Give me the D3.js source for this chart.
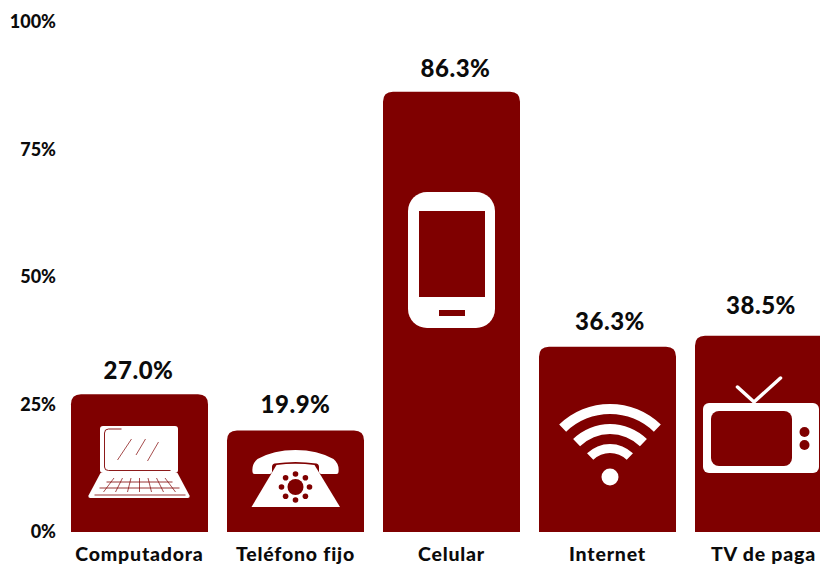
<!DOCTYPE html>
<html>
<head>
<meta charset="utf-8">
<script src="https://cdn.jsdelivr.net/npm/d3@7"></script>
<style>
  html, body { margin: 0; background: #fff; }
  svg { display: block; }
  text { font-family: Lato, sans-serif; font-weight: 900; fill: #0b0b0b; }
  .domain { display: none; }
</style>
</head>
<body>
<script>
const categories = ["Computadora", "Teléfono fijo", "Celular", "Internet", "TV de paga"];
const values = [27.0, 19.9, 86.3, 36.3, 38.5];
const yTicks = [0, 25, 50, 75, 100];
const dialDots = [0, 45, 90, 135, 180, 225, 270, 315];
const keyLines = [-3, -2, -1, 0, 1, 2, 3];

const width = 820, height = 565;
const dark = "#7f0000";

const x = d3.scaleBand()
    .domain(categories)
    .range([71, 832])
    .paddingInner(19 / 156);

const y = d3.scaleLinear()
    .domain([0, 100])
    .range([532, 22]);

const svg = d3.select("body").append("svg")
    .attr("width", width)
    .attr("height", height);

// y axis
const yAxis = svg.append("g")
    .attr("transform", "translate(56,0)")
    .call(d3.axisLeft(y).tickValues(yTicks).tickSize(0).tickPadding(0).tickFormat(d => d + "%"));
yAxis.selectAll("text").style("font-size", "18px");

// x axis
const xAxis = svg.append("g")
    .attr("transform", "translate(0,532)")
    .call(d3.axisBottom(x).tickSize(0).tickPadding(15));
xAxis.selectAll("text")
    .style("font-size", "19.5px")
    .style("letter-spacing", "0.8px");

// bars, only the top corners are rounded
function barPath(d, i) {
  const r = 10, x0 = x(categories[i]), x1 = x0 + x.bandwidth(), top = y(d), base = y(0);
  return `M${x0},${base}V${top + r}Q${x0},${top} ${x0 + r},${top}H${x1 - r}Q${x1},${top} ${x1},${top + r}V${base}Z`;
}

svg.selectAll(".bar")
    .data(values)
  .enter().append("path")
    .attr("class", "bar")
    .attr("fill", dark)
    .attr("d", barPath);

// value labels sit by hand in the original, not quite centred
const nudgeX = [-1, 0, 4, 2.5, -2.5];
const nudgeY = [-1, -3, 0, -2, -7];
svg.selectAll(".value")
    .data(values)
  .enter().append("text")
    .attr("class", "value")
    .attr("x", (d, i) => x(categories[i]) + x.bandwidth() / 2 + nudgeX[i])
    .attr("y", (d, i) => y(d) - 23 + nudgeY[i])
    .attr("dy", "0.35em")
    .attr("text-anchor", "middle")
    .style("font-size", "24px")
    .style("letter-spacing", "0.5px")
    .text(d => d.toFixed(1) + "%");

// icons: local origin is the bottom centre of each bar
function icon(i) {
  return svg.append("g")
      .attr("transform", `translate(${x(categories[i]) + x.bandwidth() / 2},${y(0)})`);
}

// laptop
const laptop = icon(0);
laptop.append("rect")
    .attr("x", -39.5).attr("y", -106).attr("width", 78).attr("height", 47).attr("rx", 3)
    .attr("fill", "#fff");
laptop.append("path")
    .attr("d", "M-39,-59H38L50,-36.5Q50.5,-34 48,-34H-49Q-51.5,-34 -51,-36.5Z")
    .attr("fill", "#fff");
laptop.append("path")
    .attr("d", "M-18,-103H-31Q-35,-103 -35,-99V-65Q-35,-61.5 -31,-61.5H31")
    .attr("fill", "none").attr("stroke", dark).attr("stroke-width", 0.9);
laptop.append("path")
    .attr("d", "M-8,-93L-22,-72M6,-93L-3.5,-77M19,-90L8,-71")
    .attr("fill", "none").attr("stroke", dark).attr("stroke-width", 0.7);
laptop.append("path")
    .attr("d", "M-33,-50H33M-40,-44H40M-45,-37H46")
    .attr("fill", "none").attr("stroke", dark).attr("stroke-width", 0.8);
laptop.selectAll(".key")
    .data(keyLines)
  .enter().append("line")
    .attr("x1", d => d * 8.5).attr("y1", -54)
    .attr("x2", d => d * 12).attr("y2", -40)
    .attr("stroke", dark).attr("stroke-width", 0.7);

// telephone
const phone = icon(1);
phone.append("path")
    .attr("d", "M-43,-60Q-44,-68 -38,-73Q-22,-82 0,-82Q22,-82 38,-73Q44,-68 43,-60Q43,-58 41,-58H26Q23.5,-58 23.5,-60V-65Q23.5,-68 21,-68.5Q0,-71.5 -21,-68.5Q-23.5,-68 -23.5,-65V-60Q-23.5,-58 -26,-58H-41Q-43,-58 -43,-60Z")
    .attr("fill", "#fff");
phone.append("path")
    .attr("d", "M-19,-67Q0,-69.5 19,-67L44.5,-25H-44Z")
    .attr("fill", "#fff");
phone.append("circle")
    .attr("cx", 0).attr("cy", -45).attr("r", 8)
    .attr("fill", dark);
phone.selectAll(".dial")
    .data(dialDots)
  .enter().append("circle")
    .attr("cx", d => 14 * Math.cos(d * Math.PI / 180))
    .attr("cy", d => -45 + 13 * Math.sin(d * Math.PI / 180))
    .attr("r", 2.8)
    .attr("fill", dark);

// smartphone
const mobile = icon(2);
mobile.append("rect")
    .attr("x", -43.5).attr("y", -340).attr("width", 87).attr("height", 136).attr("rx", 19)
    .attr("fill", "#fff");
mobile.append("rect")
    .attr("x", -32.5).attr("y", -321).attr("width", 66).attr("height", 86)
    .attr("fill", dark);
mobile.append("rect")
    .attr("x", -12.5).attr("y", -222).attr("width", 26).attr("height", 6)
    .attr("fill", dark);

// wifi
const wifi = icon(3);
const wifiArc = d3.arc().startAngle(-0.77).endAngle(0.77);
wifi.selectAll(".wave")
    .data([[63, 73], [43, 53], [24, 33]])
  .enter().append("path")
    .attr("transform", "translate(2.5,-55)")
    .attr("fill", "#fff")
    .attr("d", d => wifiArc({innerRadius: d[0], outerRadius: d[1]}));
wifi.append("circle")
    .attr("cx", 2.5).attr("cy", -55).attr("r", 8.5)
    .attr("fill", "#fff");

// tv
const tv = icon(4);
tv.append("path")
    .attr("d", "M-26,-145L-9.5,-130L17,-154")
    .attr("fill", "none").attr("stroke", "#fff").attr("stroke-width", 3.5).attr("stroke-linecap", "round");
tv.append("rect")
    .attr("x", -60.5).attr("y", -129).attr("width", 116).attr("height", 70).attr("rx", 6)
    .attr("fill", "#fff");
tv.append("rect")
    .attr("x", -52.5).attr("y", -121).attr("width", 81).attr("height", 55).attr("rx", 8)
    .attr("fill", dark);
tv.selectAll(".knob")
    .data([-100, -87])
  .enter().append("circle")
    .attr("cx", 41).attr("cy", d => d).attr("r", 5)
    .attr("fill", dark);
</script>
</body>
</html>
